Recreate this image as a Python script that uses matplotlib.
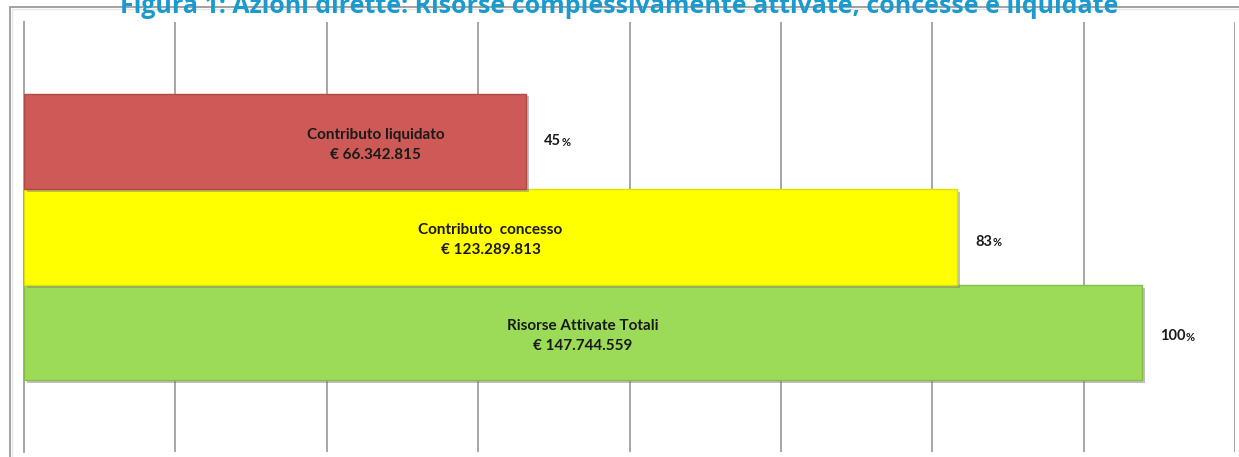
import matplotlib
matplotlib.use("Agg")
import matplotlib.pyplot as plt
import matplotlib.patheffects as pe
from matplotlib.patches import Rectangle

# ---- data ----
categories = ["Risorse Attivate Totali", "Contributo  concesso", "Contributo liquidato"]
values = [147744559, 123289813, 66342815]
value_labels = ["€ 147.744.559", "€ 123.289.813", "€ 66.342.815"]
percents = ["100", "83", "45"]
colors = ["#9BDB58", "#FFFF00", "#CD5A56"]
edge_colors = ["#84BD4A", "#E0E000", "#B04A46"]
title = "Figura 1: Azioni dirette: Risorse complessivamente attivate, concesse e liquidate"

# label placement (fraction of bar length) and vertical offsets
text_frac = [0.5, 0.5, 0.70]
pct_dy = [-0.04, -0.05, 0.0]

W, H = 1239, 457
fig = plt.figure(figsize=(W / 100, H / 100), dpi=100)
fig.patch.set_facecolor("white")

# outer border frame
fig.add_artist(Rectangle((10 / W, -0.05), 1.2, 1 - 7 / H + 0.05, transform=fig.transFigure,
                         fill=False, edgecolor="#9a9a9a", linewidth=1.3))
fig.add_artist(Rectangle((12 / W, -0.05), 1.2, 1 - 9 / H + 0.05, transform=fig.transFigure,
                         fill=False, edgecolor="#e6e6e6", linewidth=1.0))

ax = fig.add_axes([24 / W, 1 - 452 / H, (1235 - 24) / W, (452 - 22) / H])
ax.set_xlim(0, 160e6)
ax.set_ylim(-1.25, 3.25)
ax.set_xticks([i * 20e6 for i in range(9)])
ax.set_yticks([])
ax.tick_params(axis="x", length=0, labelbottom=False)
ax.grid(axis="x", color="#a6a6a6", linewidth=1.4)
ax.set_axisbelow(True)
for s in ["top", "right", "bottom"]:
    ax.spines[s].set_visible(False)
ax.spines["left"].set_color("#a6a6a6")
ax.spines["left"].set_linewidth(1.4)

ypos = list(range(len(values)))
bars = ax.barh(ypos, values, height=1.0, color=colors, edgecolor=edge_colors, linewidth=1.0, zorder=3)
for b in bars:
    b.set_path_effects([pe.SimplePatchShadow(offset=(2, -2), shadow_rgbFace="#808080", alpha=0.5),
                        pe.Normal()])

font = "Lato"
for i, (v, cat, lab, pct) in enumerate(zip(values, categories, value_labels, percents)):
    ax.text(v * text_frac[i], ypos[i] + 0.07, cat, ha="center", va="center",
            fontsize=11, fontweight="bold", family=font, color="#1a1a1a", zorder=4)
    ax.text(v * text_frac[i], ypos[i] - 0.14, lab, ha="center", va="center",
            fontsize=11, fontweight="bold", family=font, color="#1a1a1a", zorder=4)
    t = ax.annotate(pct, xy=(v, ypos[i] + pct_dy[i]), xytext=(13, 0), textcoords="offset points",
                    ha="left", va="center", fontsize=10.5, fontweight="bold", family=font,
                    color="#1a1a1a", zorder=4)
    ax.annotate("%", xy=(1, 0), xycoords=t, xytext=(0.2, 0.5), textcoords="offset points",
                ha="left", va="bottom", fontsize=8, fontweight="bold", family=font,
                color="#1a1a1a", zorder=4)

fig.text(0.5, 1 - 13 / H, title, ha="center", va="baseline", fontsize=18,
         fontweight="bold", family="Open Sans", color="#1A9BCF")

fig.savefig("out.png", dpi=100, facecolor="white")
